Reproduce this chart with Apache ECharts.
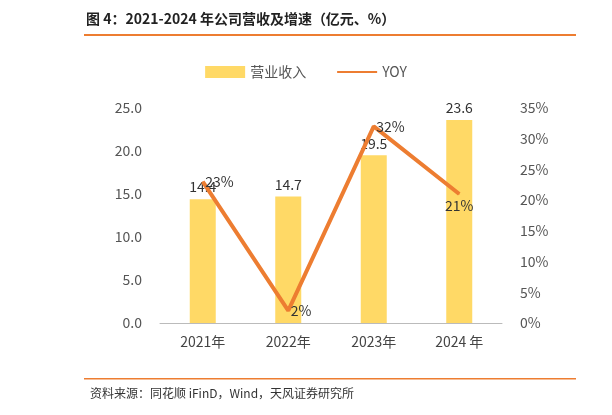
<!DOCTYPE html><html><head><meta charset="utf-8"><script src="https://cdn.jsdelivr.net/npm/echarts@6/dist/echarts.min.js"></script>
<style>body{margin:0}#c{width:612px;height:415px}</style></head><body><div id="c"></div><script>
const categories=['2021年','2022年','2023年','2024 年'];
const revenue=[14.4,14.7,19.5,23.6];
const yoy=[23,2,32,21];
const font='"Noto Sans CJK SC","Noto Sans",sans-serif';
const ch=echarts.init(document.getElementById('c'));
const lblRight={show:true,position:'right',distance:2};
ch.setOption({
 textStyle:{fontFamily:font},
 graphic:[
  {type:'text',left:86,top:12,style:{text:'图 4：2021-2024 年公司营收及增速（亿元、%）',font:'bold 14px '+font,fill:'#222'}},
  {type:'rect',shape:{x:84,y:34,width:492,height:2},style:{fill:'#ED7D31'}},
  {type:'rect',shape:{x:84,y:378,width:492,height:1.5},style:{fill:'#ED7D31'}},
  {type:'text',left:90,top:387,style:{text:'资料来源：同花顺 iFinD，Wind，天风证券研究所',font:'12px '+font,fill:'#333'}}
 ],
 legend:{top:60,left:'center',itemGap:30,textStyle:{fontSize:14,color:'#555'},data:[{name:'营业收入',icon:'rect'},{name:'YOY',itemStyle:{opacity:0}}],itemWidth:40,itemHeight:12},
 grid:{left:160,right:110,top:108,bottom:92},
 xAxis:{type:'category',data:categories,axisTick:{show:false},axisLine:{lineStyle:{color:'#bbb'}},axisLabel:{fontSize:14,color:'#444',margin:12}},
 yAxis:[
  {type:'value',min:0,max:25,interval:5,splitLine:{show:false},axisLabel:{fontSize:14,color:'#555',formatter:v=>v.toFixed(1),margin:18}},
  {type:'value',min:0,max:35,interval:5,splitLine:{show:false},axisLabel:{fontSize:14,color:'#555',formatter:'{value}%',margin:18}}
 ],
 series:[
  {name:'营业收入',type:'bar',data:revenue,barWidth:26,itemStyle:{color:'#FFD966'},label:{show:true,position:'top',fontSize:14,color:'#333'}},
  {name:'YOY',type:'line',yAxisIndex:1,z:5,
   data:yoy.map((v,i)=>({value:v,label:i===3?{position:'bottom',distance:4}:lblRight})),
   symbol:'circle',symbolSize:1,showSymbol:true,lineStyle:{color:'#ED7D31',width:4},itemStyle:{color:'#ED7D31'},
   label:{show:true,fontSize:14,color:'#333',formatter:'{c}%'},
   labelLayout:{hideOverlap:false}}
 ]
});
</script></body></html>
